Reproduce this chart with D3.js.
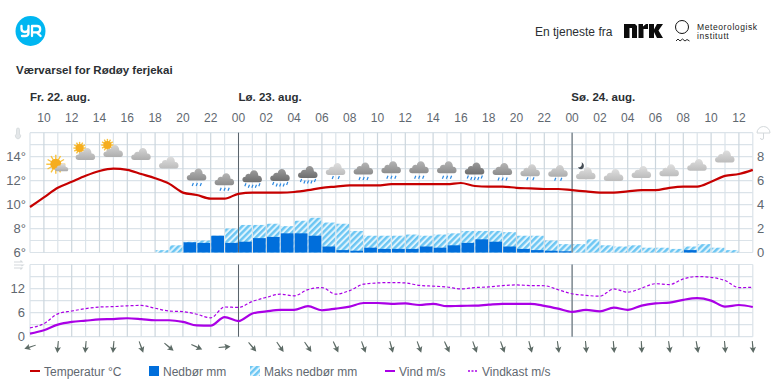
<!DOCTYPE html>
<html>
<head>
<meta charset="utf-8">
<script src="https://cdn.jsdelivr.net/npm/d3@7"></script>
<style>
	html, body { margin: 0; padding: 0; background: #fff; }
	text { font-family: "Liberation Sans", Arial, sans-serif; }
</style>
</head>
<body>
<svg id="chart" width="782" height="391"></svg>
<script>
var title = 'Værvarsel for Rødøy ferjekai';
var service_label = 'En tjeneste fra';
var hour_labels = ['10','12','14','16','18','20','22','00','02','04','06','08','10','12','14','16','18','20','22','00','02','04','06','08','10','12'];
var day_labels = [['Fr. 22. aug.', 0], ['Lø. 23. aug.', 15], ['Sø. 24. aug.', 39]];
var midnights = [15, 39];

var temperature = [9.8,10.6,11.4,11.9,12.4,12.8,13.0,12.9,12.55,12.2,11.75,11.0,10.8,10.5,10.5,10.9,11.0,11.0,11.0,11.05,11.2,11.4,11.5,11.6,11.6,11.6,11.7,11.7,11.7,11.7,11.7,11.8,11.55,11.5,11.5,11.4,11.35,11.3,11.3,11.2,11.1,11.0,11.0,11.1,11.2,11.2,11.4,11.5,11.5,11.9,12.4,12.55,12.9];
var precip = [0,0,0,0,0,0,0,0,0,0,0,0.85,0.8,1.4,0.8,0.9,1.2,1.3,1.6,1.6,1.4,0.5,0.2,0.15,0.4,0.3,0.3,0.3,0.5,0.4,0.6,0.8,1.1,0.9,0.5,0.3,0.2,0.15,0.1,0,0,0,0,0,0,0,0,0.2,0,0,0,0];
var precip_max = [0,0,0,0,0,0,0,0,0,0.2,0.6,0.9,1.0,1.4,2.0,2.3,2.3,2.4,2.2,2.65,2.9,2.5,2.4,1.8,1.4,1.4,1.4,1.5,1.4,1.5,1.6,1.8,1.8,1.8,1.7,1.4,1.4,1.0,0.7,0.7,1.1,0.6,0.5,0.6,0.4,0.4,0.3,0.5,0.7,0.4,0.2,0];
var wind = [0.75,1.6,3.0,3.7,4.0,4.3,4.4,4.6,4.4,4.1,4.1,3.7,2.8,2.75,4.9,3.9,5.8,6.3,6.7,6.7,7.6,6.6,7.0,7.5,8.4,8.4,8.2,8.3,7.9,8.2,7.6,7.7,7.75,8.0,8.2,8.2,8.2,7.7,7.0,6.2,6.7,6.3,7.25,6.7,7.75,8.3,8.5,9.2,9.6,9.0,7.5,7.9,7.4];
var gust = [2.2,3.25,5.7,6.4,7.0,7.4,7.5,7.7,7.8,7.1,6.4,6.25,5.6,4.7,7.4,7.3,8.8,9.8,10.6,10.2,11.75,12.25,10.6,11.5,13.1,13.4,13.5,13.4,12.8,12.6,12.4,11.9,12.25,12.4,12.75,12.9,12.75,12.7,11.7,10.7,10.3,10.1,11.9,11.1,12.1,13.2,13.0,14.4,15.0,14.8,14.0,12.25,12.3];
// degrees turned from straight down, one arrow every second hour
var wind_dir = [72,5,5,5,-20,-50,-65,-95,-40,-35,-35,-25,-20,-15,-20,-25,-20,-20,-15,-8,-5,-5,-3,-8,-10,-5,-5];
// symbols every second hour starting at index 2, level is read on the temperature axis
var symbol_level = [13.2,14.3,14.55,14.3,13.6,12.6,12.2,12.45,12.55,12.8,13.05,13.1,13.2,13.2,13.2,13.1,13.05,12.95,12.9,12.7,12.55,12.8,12.95,13.4,14.1];
var symbol_cloud = ['fair','light','light','light','pale','mid','mid','dark','dark','dark','pale','mid','mid','mid','mid','dark','mid','light','light','pale','pale','pale','pale','pale','pale'];
var symbol_extra = ['sun','sun','sun','','','','','','','','','','','','','','','','','moon','','','','',''];
var symbol_rain = [0,0,0,0,0,3,3,5,5,5,2,3,3,3,3,5,3,2,2,0,0,0,0,0,0];
var temp_ticks = [6,8,10,12,14];
var precip_ticks = [0,2,4,6,8];
var wind_ticks = [0,6,12];
var legend_labels = ['Temperatur °C','Nedbør mm','Maks nedbør mm','Vind m/s','Vindkast m/s'];

var grid_col = '#dbe3e9', grid_col2 = '#ccd6dd', text_col = '#5f6870', dark_text = '#2b2f33';
var temp_col = '#c60000', rain_col = '#006edb', wind_col = '#aa00e6';

var svg = d3.select('#chart');
var x_scale = d3.scaleLinear().domain([0,52]).range([30,752.8]);
var temp_y = d3.scaleLinear().domain([6,16]).range([252.5,132.7]);
var precip_y = d3.scaleLinear().domain([0,10]).range([252.5,132.7]);
var wind_y = d3.scaleLinear().domain([0,18]).range([336.7,264.5]);

var defs = svg.append('defs');
var hatch = defs.append('pattern').attr('id','hatch').attr('width',4.4).attr('height',4.4)
	.attr('patternUnits','userSpaceOnUse').attr('patternTransform','rotate(45)');
hatch.append('rect').attr('width',4.4).attr('height',4.4).attr('fill','#dff4fd');
hatch.append('rect').attr('width',2.4).attr('height',4.4).attr('fill','#6cc6f3');

var cloud_cols = {fair:['#e2e2e2','#a9a9a9'], pale:['#dedede','#bcbcbc'], light:['#d4d4d4','#adadad'], mid:['#b4b4b4','#8c8c8c'], dark:['#9a9a9a','#6e6e6e']};
Object.keys(cloud_cols).forEach(function(k)  {
	var g = defs.append('linearGradient').attr('id','cloud_'+k).attr('x1',0).attr('x2',0).attr('y1',0).attr('y2',1);
	g.append('stop').attr('offset','0%').attr('stop-color',cloud_cols[k][0]);
	g.append('stop').attr('offset','100%').attr('stop-color',cloud_cols[k][1]);
});

// header
var logo = svg.append('g');
logo.append('circle').attr('cx',30.5).attr('cy',31).attr('r',15).attr('fill','#00b6f1');
logo.append('path').attr('d','M21.5,26 V28.5 Q21.5,32 25,32 Q28.5,32 28.5,28.5 V26 M28.5,29 V33 Q28.5,36 25,36 H22 M32,36 V26 H37 Q40.2,26 40.2,29.2 Q40.2,32.4 37,32.4 H32 M36.8,32.4 L40.6,36')
	.attr('fill','none').attr('stroke','#fff').attr('stroke-width',2.3).attr('stroke-linecap','round').attr('stroke-linejoin','round');
svg.append('text').attr('x',16).attr('y',73.5).attr('font-size',11.5).attr('font-weight','bold').attr('fill',dark_text).text(title);
svg.append('text').attr('x',535).attr('y',35.5).attr('font-size',12).attr('fill',dark_text).text(service_label);
svg.append('path').attr('fill','#0c0c0c')
	.attr('d','M624,24 H635 L637,26 V38 H632 V28 H629.5 V38 H624 Z M638.5,24 H643 V26.5 L646,24 H648 V29 H643.5 V38 H638.5 Z M649,24 H654 V29.5 L657,24 H663 L658.5,30.5 L663,38 H657 L654,32 V38 H649 Z');
svg.append('circle').attr('cx',682).attr('cy',27).attr('r',6.5).attr('fill','none').attr('stroke','#111').attr('stroke-width',1);
svg.append('path').attr('d','M676,41 L678,39 L680,41 L682.5,39 L685,41 L687,39.5 L689.5,41').attr('fill','none').attr('stroke','#111').attr('stroke-width',0.9);
svg.append('text').attr('x',697).attr('y',29.5).attr('font-size',8.5).attr('font-weight','500').attr('letter-spacing',0.6).attr('font-family','DejaVu Sans').attr('fill','#222').text('Meteorologisk');
svg.append('text').attr('x',697).attr('y',38.7).attr('font-size',8.5).attr('font-weight','500').attr('letter-spacing',0.6).attr('font-family','DejaVu Sans').attr('fill','#222').text('institutt');

// dates and hours
svg.selectAll('.daylabel').data(day_labels).enter().append('text').attr('class','daylabel')
	.attr('x', d => x_scale(d[1])-(d[1] == 39 ? 0.8 : 0)).attr('y',101).attr('font-size',11.5).attr('font-weight','bold').attr('fill',dark_text)
	.text(d => d[0]);
svg.selectAll('.hourlabel').data(hour_labels).enter().append('text').attr('class','hourlabel')
	.attr('x', (d,i) => x_scale(1+2*i)).attr('y',122).attr('text-anchor','middle').attr('font-size',12).attr('fill',text_col)
	.text(d => d);

// grids
function draw_grid(y_scale, y_values)  {
	var g = svg.append('g');
	g.selectAll('line.h').data(y_values).enter().append('line').attr('class','h')
		.attr('x1',30).attr('x2',752.8).attr('y1', d => y_scale(d)).attr('y2', d => y_scale(d))
		.attr('stroke',grid_col).attr('stroke-width',1.2);
	g.selectAll('line.v').data(d3.range(53)).enter().append('line').attr('class','v')
		.attr('x1', d => x_scale(d)).attr('x2', d => x_scale(d)).attr('y1',y_scale.range()[0]).attr('y2',y_scale.range()[1])
		.attr('stroke', d => d%2 == 1 ? grid_col2 : grid_col).attr('stroke-width',1.2);
}
draw_grid(temp_y, d3.range(6,17));
draw_grid(wind_y, d3.range(0,19,3));

// precipitation bars
svg.selectAll('.maxbar').data(precip_max).enter().append('rect').attr('class','maxbar')
	.attr('x', (d,i) => x_scale(i)+0.6).attr('width', x_scale(1)-x_scale(0)-1.2)
	.attr('y', d => precip_y(d)).attr('height', d => precip_y(0)-precip_y(d)).attr('fill','url(#hatch)');
svg.selectAll('.rainbar').data(precip).enter().append('rect').attr('class','rainbar')
	.attr('x', (d,i) => x_scale(i)+0.6).attr('width', x_scale(1)-x_scale(0)-1.2)
	.attr('y', d => precip_y(d)).attr('height', d => precip_y(0)-precip_y(d)).attr('fill',rain_col);

// midnight markers
[temp_y, wind_y].forEach(function(y_scale)  {
	svg.selectAll('.mid').data(midnights, d => d+'_'+y_scale.range()[0]).enter().append('line')
		.attr('x1', d => x_scale(d)).attr('x2', d => x_scale(d)).attr('y1',y_scale.range()[0]).attr('y2',y_scale.range()[1])
		.attr('stroke','#5a636b').attr('stroke-width',1);
});

// axis labels
function draw_axis(axis, x_pos)  {
	var g = svg.append('g').attr('transform','translate('+x_pos+',0)').call(axis);
	g.select('.domain').remove();
	g.selectAll('.tick line').remove();
	g.selectAll('text').attr('font-size',13).attr('font-family','Liberation Sans').attr('fill',text_col);
}
draw_axis(d3.axisLeft(temp_y).tickValues(temp_ticks).tickFormat(d => d+'°').tickSize(0).tickPadding(0), 26);
draw_axis(d3.axisRight(precip_y).tickValues(precip_ticks).tickSize(0).tickPadding(0), 757);
draw_axis(d3.axisLeft(wind_y).tickValues(wind_ticks).tickSize(0).tickPadding(0), 25);

// lines
var temp_line = d3.line().x((d,i) => x_scale(i)).y(d => temp_y(d)).curve(d3.curveMonotoneX);
var wind_line = d3.line().x((d,i) => x_scale(i)).y(d => wind_y(d)).curve(d3.curveMonotoneX);
svg.append('path').attr('d',temp_line(temperature)).attr('fill','none').attr('stroke',temp_col).attr('stroke-width',2.2);
svg.append('path').attr('d',wind_line(gust)).attr('fill','none').attr('stroke',wind_col).attr('stroke-width',1.2).attr('stroke-dasharray','3,2');
svg.append('path').attr('d',wind_line(wind)).attr('fill','none').attr('stroke',wind_col).attr('stroke-width',2.2);

// weather symbols
var cloud_path = 'M-7,6 C-11,6 -11,0.5 -7,0.5 C-7,-2 -4,-3 -2.5,-2 C-1.5,-7.5 5.5,-7.5 6,-0.5 C10,-1 11,6 7,6 Z';
var drop_dx = {2:[-3,3], 3:[-4,0,4], 5:[-7,-3.5,0,3.5,7]};
symbol_level.forEach(function(level, i)  {
	var g = svg.append('g').attr('transform','translate('+x_scale(2+2*i)+','+temp_y(level)+')');
	var fair = symbol_cloud[i] == 'fair';
	if(symbol_extra[i] == 'sun')  {
		var sx = fair ? -2 : -6, sy = fair ? -2 : -5, sr = fair ? 5.5 : 4, rr = fair ? 9.5 : 6.2;
		var rays = g.append('g').attr('transform','translate('+sx+','+sy+')');
		d3.range(12).forEach(function(r)  {
			var a = r*Math.PI/6;
			rays.append('line').attr('x1',0).attr('y1',0).attr('x2',rr*Math.cos(a)).attr('y2',rr*Math.sin(a))
				.attr('stroke','#f9c23c').attr('stroke-width',1.4);
		});
		rays.append('circle').attr('r',sr).attr('fill','#f5ad1f');
	}
	if(symbol_extra[i] == 'moon')  {
		g.append('path').attr('d','M-8,-5 C-4.5,-4.5 -3.5,-8 -4.5,-10 C-1,-8.5 -1.5,-3 -5,-3 C-6.5,-3 -7.5,-4 -8,-5 Z').attr('fill','#444c54');
	}
	var c = g.append('path').attr('d',cloud_path).attr('fill','url(#cloud_'+symbol_cloud[i]+')');
	if(fair)
		c.attr('transform','translate(4,1) scale(0.68)');
	else
		c.attr('transform','translate(0,1)');
	if(symbol_rain[i] > 0)  {
		drop_dx[symbol_rain[i]].forEach(function(dx, j, all)  {
			var mid = Math.abs(j-(all.length-1)/2) < 1.2 && all.length != 2 ? 1.5 : 0;
			g.append('line').attr('x1',dx-0.6).attr('x2',dx+0.6).attr('y1',9+mid+2).attr('y2',9+mid-1)
				.attr('stroke','#2b88e0').attr('stroke-width',1.2);
		});
	}
});

// wind arrows
svg.selectAll('.arrow').data(wind_dir).enter().append('path').attr('class','arrow')
	.attr('transform', (d,i) => 'translate('+x_scale(2*i)+',347) rotate('+d+')')
	.attr('d','M-0.5,-6 L0.5,-6 L0.7,1 L3.2,0 L0,6 L-3.2,0 L-0.7,1 Z').attr('fill','#5d6b66');

// small axis icons
var icon_col = '#d3d8db';
svg.append('path').attr('d','M16.5,129.5 A1.5,1.5 0 0 1 19.5,129.5 V134 A2.6,2.6 0 1 1 16.5,134 Z').attr('fill','#e4e7e9').attr('stroke',icon_col).attr('stroke-width',0.8);
svg.append('path').attr('d','M757,133 A6.5,6.5 0 0 1 770,133 Z M763.5,133 V138 A1.5,1.5 0 0 1 760.5,138').attr('fill','none').attr('stroke',icon_col).attr('stroke-width',1);
svg.append('path').attr('d','M14,262 H22 L20.5,260.5 M14,265 H23 L21.5,266 M14,268 H22 L20.5,269.5').attr('fill','none').attr('stroke',icon_col).attr('stroke-width',1.1);

// legend
var legend_y = 371;
var legend_text_x = [44,163,264,399,482];
svg.selectAll('.legtext').data(legend_labels).enter().append('text').attr('class','legtext')
	.attr('x', (d,i) => legend_text_x[i]).attr('y',legend_y+4.5).attr('font-size',12).attr('fill',text_col).text(d => d);
svg.append('line').attr('x1',30).attr('x2',40).attr('y1',legend_y).attr('y2',legend_y).attr('stroke',temp_col).attr('stroke-width',2);
svg.append('rect').attr('x',149).attr('y',legend_y-5).attr('width',10).attr('height',10).attr('fill',rain_col);
svg.append('rect').attr('x',250).attr('y',legend_y-5).attr('width',10).attr('height',10).attr('fill','url(#hatch)');
svg.append('line').attr('x1',385).attr('x2',395).attr('y1',legend_y).attr('y2',legend_y).attr('stroke',wind_col).attr('stroke-width',2);
svg.append('line').attr('x1',468).attr('x2',478).attr('y1',legend_y).attr('y2',legend_y).attr('stroke',wind_col).attr('stroke-width',1.5).attr('stroke-dasharray','2,1.5');
</script>
</body>
</html>
